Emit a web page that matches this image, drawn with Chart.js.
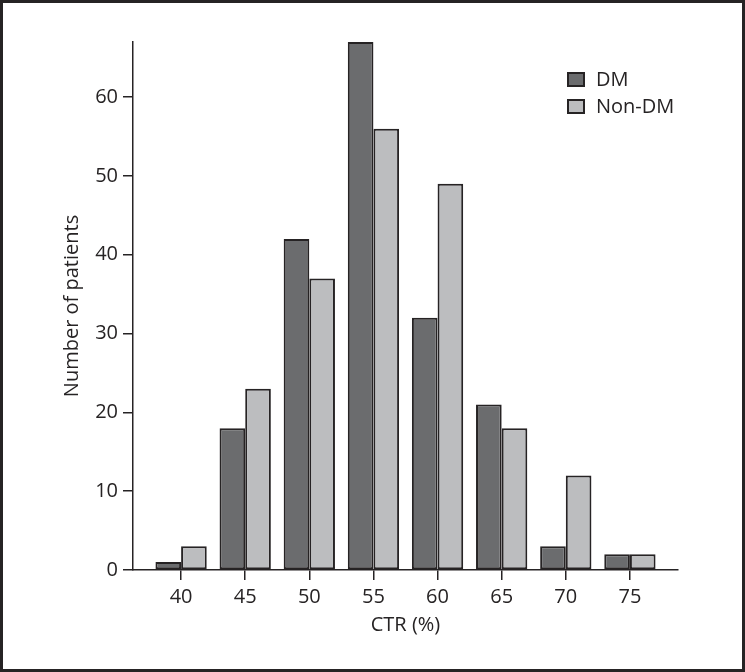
<!DOCTYPE html>
<html>
<head>
<meta charset="utf-8">
<script src="https://cdn.jsdelivr.net/npm/chart.js@4/dist/chart.umd.min.js"></script>
<style>
  html, body { margin: 0; padding: 0; background: #fff; }
  #wrap { width: 745px; height: 672px; }
</style>
</head>
<body>
<div id="wrap"><canvas id="ctrChart" width="745" height="672"></canvas></div>
<script>
// CTR bins (%) and patient counts
const ctrBins = [40, 45, 50, 55, 60, 65, 70, 75];
const dmCounts = [1, 18, 42, 67, 32, 21, 3, 2];
const nonDmCounts = [3, 23, 37, 56, 49, 18, 12, 2];
const yTicks = [0, 10, 20, 30, 40, 50, 60];
const seriesNames = ['DM', 'Non-DM'];

const ink = '#262324';
const dmFill = '#6b6c6e';
const nonDmFill = '#bcbdbf';
const font = { family: "'Open Sans', sans-serif", size: 20 };

const toPoints = (vals) => ctrBins.map((x, i) => ({ x: x, y: vals[i] }));

// frame round the figure + legend in the top right
const framePlugin = {
    id: 'frame',
    afterDraw(chart) {
        const ctx = chart.ctx;
        ctx.save();
        ctx.strokeStyle = ink;
        ctx.lineWidth = 3;
        ctx.strokeRect(1.5, 1.5, chart.width - 3, chart.height - 3);

        ctx.font = font.size + 'px ' + font.family;
        ctx.textBaseline = 'middle';
        ctx.textAlign = 'left';
        chart.data.datasets.forEach((ds, i) => {
            const y = 72 + i * 27;
            ctx.fillStyle = ds.backgroundColor;
            ctx.fillRect(567, y, 18, 15);
            ctx.lineWidth = 2;
            ctx.strokeStyle = ink;
            ctx.strokeRect(568, y + 1, 16, 13);
            ctx.fillStyle = ink;
            ctx.fillText(ds.label, 596, y + 8);
        });
        ctx.restore();
    }
};

new Chart(document.getElementById('ctrChart'), {
    type: 'bar',
    data: {
        datasets: [{
            label: seriesNames[0],
            data: toPoints(dmCounts),
            backgroundColor: dmFill,
            borderColor: ink,
            borderWidth: 2,
            borderSkipped: false
        }, {
            label: seriesNames[1],
            data: toPoints(nonDmCounts),
            backgroundColor: nonDmFill,
            borderColor: ink,
            borderWidth: 2,
            borderSkipped: false
        }]
    },
    options: {
        responsive: false,
        animation: false,
        devicePixelRatio: 1,
        datasets: { bar: { categoryPercentage: 0.8, barPercentage: 1.0 } },
        layout: { padding: { left: 0, top: 42, right: 67, bottom: 0 } },
        scales: {
            x: {
                type: 'linear',
                offset: false,
                min: 36.25,
                max: 78.75,
                afterBuildTicks: (scale) => { scale.ticks = ctrBins.map(v => ({ value: v })); },
                afterFit: (scale) => { scale.height = 102; },
                grid: { offset: false, drawOnChartArea: false, drawTicks: true, tickLength: 10, color: ink, lineWidth: 1.5 },
                border: { display: true, color: ink, width: 1.5 },
                ticks: { color: ink, font: font, padding: 5, maxRotation: 0 },
                title: { display: true, text: 'CTR (%)', color: ink, font: font, padding: { top: 0, bottom: 35 } }
            },
            y: {
                min: 0,
                max: 67,
                afterBuildTicks: (scale) => { scale.ticks = yTicks.map(v => ({ value: v })); },
                afterFit: (scale) => { scale.width = 133; },
                grid: { drawOnChartArea: false, drawTicks: true, tickLength: 10, color: ink, lineWidth: 1.5 },
                border: { display: true, color: ink, width: 1.5 },
                ticks: { color: ink, font: font, padding: 5 },
                title: { display: true, text: 'Number of patients', color: ink, font: font, padding: { top: 60, bottom: 0 } }
            }
        },
        plugins: {
            legend: { display: false },
            tooltip: { enabled: false }
        }
    },
    plugins: [framePlugin]
});
</script>
</body>
</html>
